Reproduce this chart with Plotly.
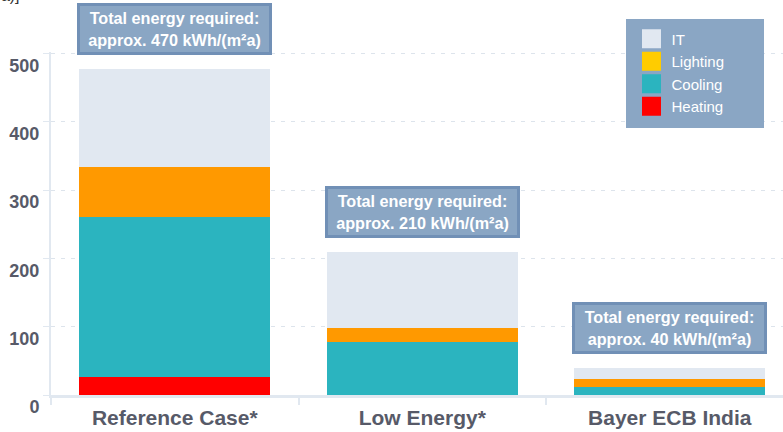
import plotly.graph_objects as go

# ---- data -------------------------------------------------------------
categories = ["Reference Case*", "Low Energy*", "Bayer ECB India"]
heating = [27, 0, 0]
cooling = [234, 78, 11]
lighting = [73, 20, 12]
it_load = [143, 112, 17]
total_labels = ["470", "210", "40"]
y_tick_values = [0, 100, 200, 300, 400, 500]
unit_label = "[kWh/(m²a)]"

# ---- styling ----------------------------------------------------------
W, H = 783, 432
ML, MR, MT, MB = 51, 0, 52, 37
PW, PH = W - ML - MR, H - MT - MB
Y_MAX = 502

C_HEAT = "#ff0000"
C_COOL = "#2bb4bf"
C_LIGHT_BAR = "#ff9900"
C_LIGHT_LEG = "#ffcc00"
C_IT = "#e1e8f1"
BOX_BG = "#8aa6c4"
BOX_BORDER = "#7190b6"
AXIS_C = "#e1e8f0"
TEXT_C = "#575a68"
FONT = "Liberation Sans, Arial, sans-serif"
BAR_W = 0.772

def px_to_paper_x(px):
    return (px - ML) / PW

def px_to_paper_y(py):
    return (H - MB - py) / PH

fig = go.Figure()

stack = [("Heating", heating, C_HEAT), ("Cooling", cooling, C_COOL),
         ("Lighting", lighting, C_LIGHT_BAR), ("IT", it_load, C_IT)]
for name, vals, col in stack:
    fig.add_trace(go.Bar(x=categories, y=vals, name=name, width=BAR_W,
                         marker=dict(color=col, line=dict(width=0)),
                         showlegend=False))

# legend-only entries (legend swatch colours differ from bar for Lighting)
legend_items = [("IT", C_IT), ("Lighting", C_LIGHT_LEG),
                ("Cooling", C_COOL), ("Heating", C_HEAT)]
for name, col in legend_items:
    fig.add_trace(go.Scatter(x=[None], y=[None], mode="markers", name=name,
                             marker=dict(symbol="square", size=16, color=col,
                                         line=dict(color=col, width=3)),
                             showlegend=True, hoverinfo="skip"))

totals = [h + c + l + i for h, c, l, i in zip(heating, cooling, lighting, it_load)]
annotations = []
for cat, tot, lab in zip(categories, totals, total_labels):
    annotations.append(dict(
        x=cat, y=tot, xref="x", yref="y", yanchor="bottom", yshift=14,
        text=f"Total energy required:<br>approx. {lab} kWh/(m²a)",
        showarrow=False, align="center", width=185, height=42,
        bgcolor=BOX_BG, bordercolor=BOX_BORDER, borderwidth=3, borderpad=2,
        font=dict(family=FONT, size=16.2, color="white", weight="bold")))

annotations.append(dict(
    x=px_to_paper_x(22), y=px_to_paper_y(6), xref="paper", yref="paper",
    xanchor="right", yanchor="bottom", text=unit_label, showarrow=False,
    font=dict(family=FONT, size=16, color="#333333")))

shapes = [dict(type="rect", xref="paper", yref="paper", layer="above",
               x0=px_to_paper_x(626), x1=px_to_paper_x(764),
               y0=px_to_paper_y(128), y1=px_to_paper_y(19),
               fillcolor=BOX_BG, line=dict(width=0))]

fig.update_layout(
    width=W, height=H, autosize=False,
    margin=dict(l=ML, r=MR, t=MT, b=MB, pad=0),
    paper_bgcolor="white", plot_bgcolor="white",
    barmode="stack",
    font=dict(family=FONT),
    annotations=annotations, shapes=shapes,
    legend=dict(x=px_to_paper_x(631.5), y=px_to_paper_y(22.5),
                xanchor="left", yanchor="top", traceorder="normal",
                bgcolor="rgba(0,0,0,0)", borderwidth=0,
                font=dict(family=FONT, size=15, color="white")),
    xaxis=dict(type="category", range=[-0.5, -0.5 + PW / 247.5],
               showline=True, linecolor=AXIS_C, linewidth=3,
               ticks="outside", tickson="boundaries", ticklen=7,
               tickcolor=AXIS_C, tickwidth=2, showgrid=False,
               ticklabelstandoff=2,
               tickfont=dict(family=FONT, size=21, color=TEXT_C, weight="bold"),
               fixedrange=True),
    yaxis=dict(range=[0, Y_MAX], tickvals=y_tick_values,
               showline=True, linecolor=AXIS_C, linewidth=2,
               ticks="outside", ticklen=6, tickcolor=AXIS_C, tickwidth=1,
               showgrid=True, gridcolor="#dde4ec", gridwidth=1,
               griddash="4px,6px", zeroline=False,
               ticklabelshift=12,
               tickfont=dict(family=FONT, size=18, color=TEXT_C, weight="bold"),
               fixedrange=True),
)

fig.write_html("out.html")
